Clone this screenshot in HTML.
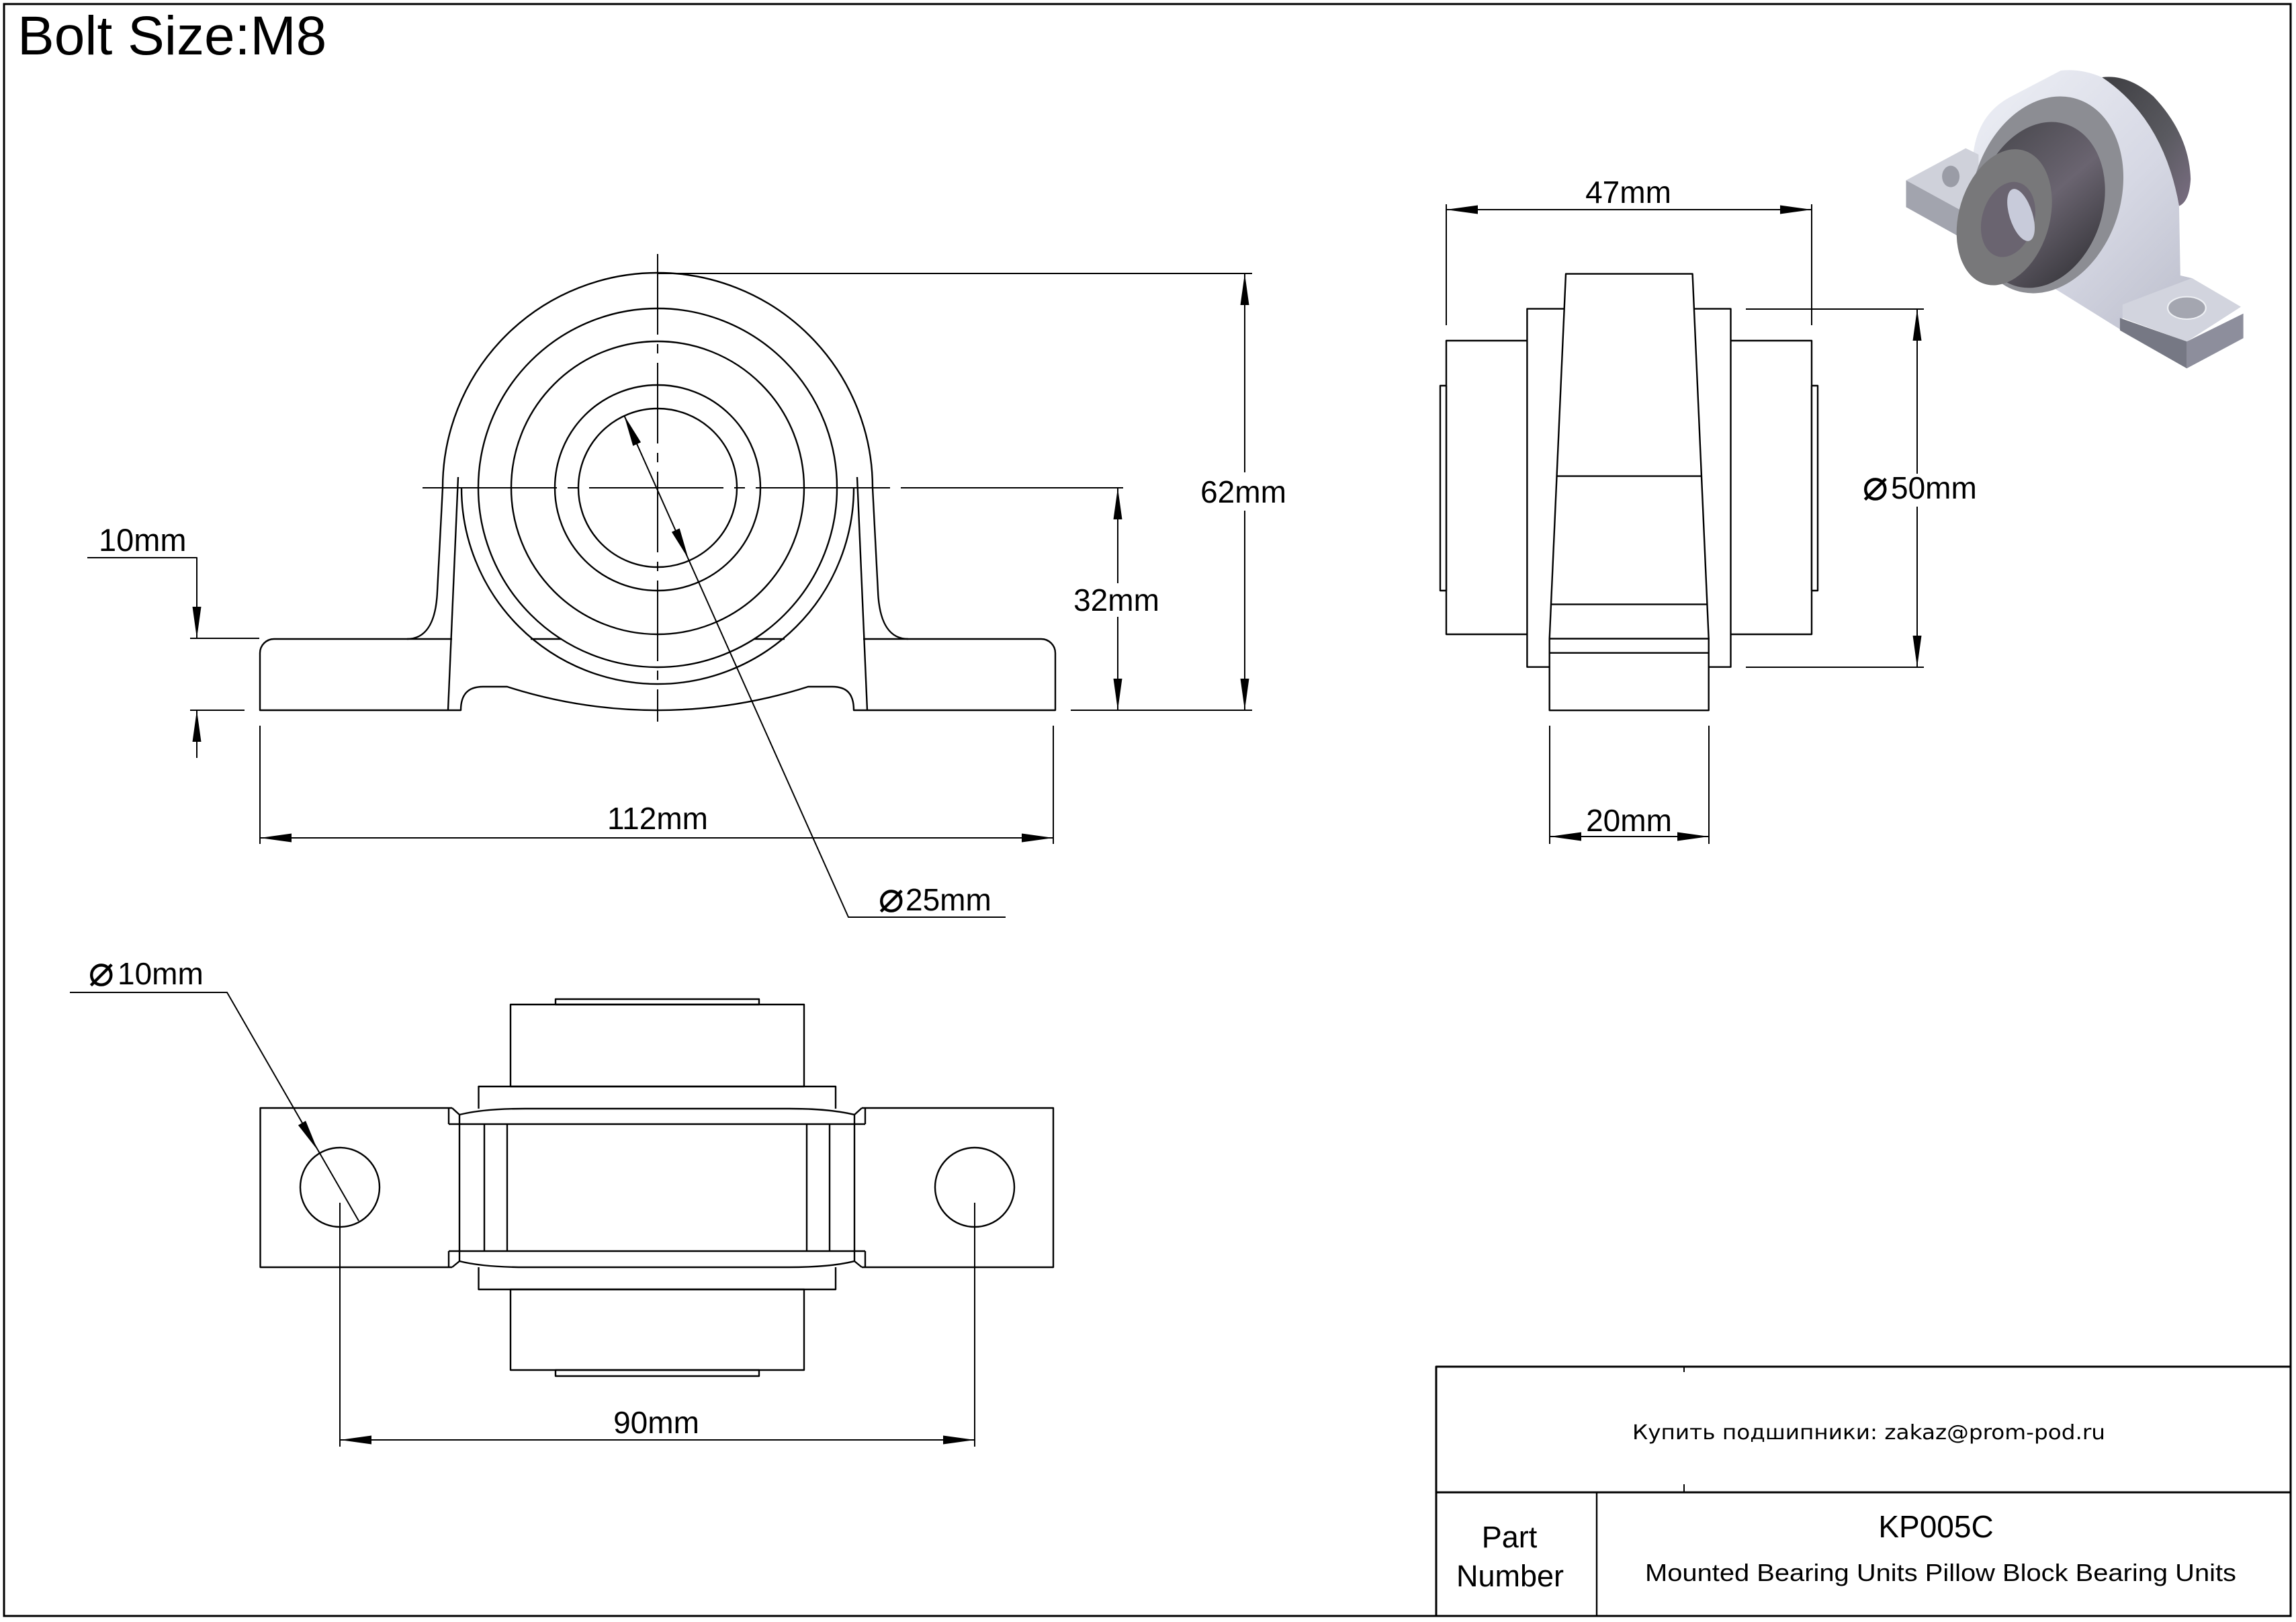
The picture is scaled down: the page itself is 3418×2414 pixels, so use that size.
<!DOCTYPE html>
<html><head><meta charset="utf-8"><style>
html,body{margin:0;padding:0;background:#fff;}
svg{display:block;}
text{font-family:"Liberation Sans",Arial,sans-serif;fill:#000;}
.d{font-family:"DejaVu Sans","Liberation Sans",sans-serif;}
</style></head><body>
<svg width="3418" height="2414" viewBox="0 0 3418 2414" xmlns="http://www.w3.org/2000/svg">
<defs>
<linearGradient id="gl" x1="0" y1="0" x2="1" y2="1"><stop offset="0" stop-color="#eef0f6"/><stop offset="0.5" stop-color="#d6d8e4"/><stop offset="1" stop-color="#b4b6c4"/></linearGradient>
<linearGradient id="gd" x1="0" y1="0" x2="1" y2="1"><stop offset="0" stop-color="#3e3e42"/><stop offset="0.6" stop-color="#5a5a60"/><stop offset="1" stop-color="#7a6e82"/></linearGradient>
<linearGradient id="gb" x1="0" y1="0" x2="1" y2="1"><stop offset="0" stop-color="#45454a"/><stop offset="0.5" stop-color="#6a6470"/><stop offset="1" stop-color="#2e2e32"/></linearGradient>
</defs>
<rect x="0" y="0" width="3418" height="2414" fill="#fff"/>
<!-- frame -->
<rect x="6" y="6" width="3404" height="2399" fill="none" stroke="#000" stroke-width="3"/>
<text x="26" y="81" font-size="82">Bolt Size:M8</text>

<g fill="none" stroke="#000" stroke-width="2.4" stroke-linejoin="round">
<!-- FRONT VIEW -->
<line x1="979" y1="378" x2="979" y2="1074" stroke-width="2" stroke-dasharray="120 14 14 14"/>
<line x1="629" y1="726" x2="1351" y2="726" stroke-width="2" stroke-dasharray="200 16 16 16"/>
<line x1="1351" y1="726" x2="1672" y2="726" stroke-width="2"/>
<path d="M659,726 A320,320 0 0 1 1299,726"/>
<circle cx="979" cy="726" r="267"/>
<circle cx="979" cy="726" r="218"/>
<circle cx="979" cy="726" r="153"/>
<circle cx="979" cy="726" r="118"/>
<path d="M687,726 A292,292 0 0 0 1271,726"/>
<path d="M659,726 L651,880 C649,930 632,951 606,951 L408,951 A21,21 0 0 0 387,972 L387,1057 L686,1057 C686,1032 698,1022 719,1022 L755,1022 A734,734 0 0 0 1203,1022 L1239,1022 C1260,1022 1271,1032 1271,1057 L1571,1057 L1571,972 A21,21 0 0 0 1550,951 L1352,951 C1326,951 1309,930 1307,880 L1299,726"/>
<line x1="606" y1="951" x2="673" y2="951"/>
<line x1="1285" y1="951" x2="1352" y2="951"/>
<line x1="790" y1="951" x2="836" y2="951"/>
<line x1="1122" y1="951" x2="1168" y2="951"/>
<line x1="682" y1="710" x2="667" y2="1057"/>
<line x1="1276" y1="710" x2="1291" y2="1057"/>
<!-- 62mm -->
<line x1="979" y1="407" x2="1864" y2="407" stroke-width="2"/>
<line x1="1594" y1="1057" x2="1864" y2="1057" stroke-width="2"/>
<line x1="1853" y1="407" x2="1853" y2="703" stroke-width="2"/>
<line x1="1853" y1="760" x2="1853" y2="1057" stroke-width="2"/>
<!-- 32mm -->
<line x1="1664" y1="726" x2="1664" y2="868" stroke-width="2"/>
<line x1="1664" y1="918" x2="1664" y2="1057" stroke-width="2"/>
<!-- 112mm -->
<line x1="387" y1="1080" x2="387" y2="1256" stroke-width="2"/>
<line x1="1568" y1="1080" x2="1568" y2="1256" stroke-width="2"/>
<line x1="387" y1="1247" x2="1568" y2="1247" stroke-width="2"/>
<!-- 10mm -->
<path d="M130,830 L293,830 L293,950" stroke-width="2"/>
<line x1="293" y1="1057" x2="293" y2="1128" stroke-width="2"/>
<line x1="283" y1="950" x2="386" y2="950" stroke-width="2"/>
<line x1="283" y1="1057" x2="364" y2="1057" stroke-width="2"/>
<!-- dia 25 leader -->
<path d="M929,618 L1263,1365 L1497,1365" stroke-width="2"/>

<!-- SIDE VIEW -->
<rect x="2153" y="507" width="544" height="437" fill="#fff"/>
<rect x="2144" y="574" width="9" height="305" fill="#fff"/>
<rect x="2697" y="574" width="9" height="305" fill="#fff"/>
<rect x="2273.4" y="459.6" width="303.1" height="533.1" fill="#fff"/>
<polygon points="2331,407.6 2519.6,407.6 2543.7,950.6 2306.7,950.6" fill="#fff"/>
<rect x="2306.7" y="950.6" width="237" height="106.6" fill="#fff"/>
<line x1="2318" y1="708.6" x2="2532" y2="708.6"/>
<line x1="2309.5" y1="899.4" x2="2541" y2="899.4"/>
<line x1="2306.7" y1="971.7" x2="2543.7" y2="971.7"/>
<!-- 47mm -->
<line x1="2153" y1="304" x2="2153" y2="484" stroke-width="2"/>
<line x1="2697" y1="304" x2="2697" y2="484" stroke-width="2"/>
<line x1="2153" y1="312" x2="2697" y2="312" stroke-width="2"/>
<!-- dia 50 -->
<line x1="2599" y1="460" x2="2864" y2="460" stroke-width="2"/>
<line x1="2599" y1="993" x2="2864" y2="993" stroke-width="2"/>
<line x1="2854" y1="460" x2="2854" y2="705" stroke-width="2"/>
<line x1="2854" y1="754" x2="2854" y2="993" stroke-width="2"/>
<!-- 20mm -->
<line x1="2307" y1="1080" x2="2307" y2="1256" stroke-width="2"/>
<line x1="2544" y1="1080" x2="2544" y2="1256" stroke-width="2"/>
<line x1="2307" y1="1245" x2="2544" y2="1245" stroke-width="2"/>

<!-- BOTTOM VIEW -->
<path d="M673,1649 L387.5,1649 L387.5,1886 L673,1886"/>
<path d="M1283,1649 L1568,1649 L1568,1886 L1283,1886"/>
<path d="M668,1649 L668,1673 M673,1649 L684,1659 L684,1877 L673,1886 M668,1862 L668,1886"/>
<path d="M1288,1649 L1288,1673 M1283,1649 L1272,1659 L1272,1877 L1283,1886 M1288,1862 L1288,1886"/>
<line x1="668" y1="1673" x2="1288" y2="1673"/>
<line x1="668" y1="1862" x2="1288" y2="1862"/>
<path d="M684,1659 Q720,1650 782,1650 L1175,1650 Q1236,1650 1272,1659"/>
<path d="M684,1877 Q720,1886 782,1886 L1175,1886 Q1236,1886 1272,1877"/>
<line x1="721" y1="1673" x2="721" y2="1862"/>
<line x1="755" y1="1673" x2="755" y2="1862"/>
<line x1="1201" y1="1673" x2="1201" y2="1862"/>
<line x1="1235" y1="1673" x2="1235" y2="1862"/>
<path d="M712.5,1650 L712.5,1617 L1244,1617 L1244,1650"/>
<rect x="760" y="1495" width="437" height="122"/>
<rect x="827" y="1487" width="303" height="8"/>
<path d="M712.5,1886 L712.5,1919 L1244,1919 L1244,1886"/>
<rect x="760" y="1919" width="437" height="120"/>
<rect x="827" y="2039" width="303" height="9"/>
<circle cx="506" cy="1767" r="59"/>
<circle cx="1451" cy="1767" r="59"/>
<!-- 90mm -->
<line x1="506" y1="1790" x2="506" y2="2153" stroke-width="2"/>
<line x1="1451" y1="1790" x2="1451" y2="2153" stroke-width="2"/>
<line x1="506" y1="2143" x2="1451" y2="2143" stroke-width="2"/>
<!-- dia 10 leader -->
<path d="M104,1477 L338,1477 L534,1817" stroke-width="2"/>

<!-- TITLE BLOCK -->
<rect x="2138" y="2034" width="1272" height="371" stroke-width="3"/>
<line x1="2138" y1="2221" x2="3410" y2="2221" stroke-width="3"/>
<line x1="2377" y1="2221" x2="2377" y2="2405" stroke-width="2.4"/>
<line x1="2507" y1="2034" x2="2507" y2="2042" stroke-width="2"/>
<line x1="2507" y1="2209" x2="2507" y2="2221" stroke-width="2"/>
</g>

<!-- arrowheads -->
<g fill="#000" stroke="none">
<polygon points="1853,407 1846.5,454 1859.5,454"/>
<polygon points="1853,1057 1846.5,1010 1859.5,1010"/>
<polygon points="1664,726 1657.5,773 1670.5,773"/>
<polygon points="1664,1057 1657.5,1010 1670.5,1010"/>
<polygon points="387,1247 434,1240.5 434,1253.5"/>
<polygon points="1568,1247 1521,1240.5 1521,1253.5"/>
<polygon points="293,950 286.5,903 299.5,903"/>
<polygon points="293,1057 286.5,1104 299.5,1104"/>
<polygon points="2153,312 2200,305.5 2200,318.5"/>
<polygon points="2697,312 2650,305.5 2650,318.5"/>
<polygon points="2854,460 2847.5,507 2860.5,507"/>
<polygon points="2854,993 2847.5,946 2860.5,946"/>
<polygon points="2307,1245 2354,1238.5 2354,1251.5"/>
<polygon points="2544,1245 2497,1238.5 2497,1251.5"/>
<polygon points="506,2143 553,2136.5 553,2149.5"/>
<polygon points="1451,2143 1404,2136.5 1404,2149.5"/>
<polygon points="929,618 954.1,658.2 942.3,663.6"/>
<polygon points="1025,832 1011.7,786.4 999.9,791.8"/>
<polygon points="473,1712 455.1,1668.1 443.9,1674.6"/>
</g>

<!-- dimension text -->
<g font-size="46">
<text x="1851" y="748" text-anchor="middle">62mm</text>
<text x="1662" y="909" text-anchor="middle">32mm</text>
<text x="979" y="1234" text-anchor="middle">112mm</text>
<text x="147" y="820" font-size="47">10mm</text>
<text class="d" x="1346" y="1357" font-size="64" text-anchor="end">⌀</text>
<text x="1348" y="1355">25mm</text>
<text class="d" x="170" y="1467" font-size="64" text-anchor="end">⌀</text>
<text x="175" y="1465">10mm</text>
<text x="2424" y="302" text-anchor="middle">47mm</text>
<text class="d" x="2811" y="744" font-size="64" text-anchor="end">⌀</text>
<text x="2815" y="742">50mm</text>
<text x="2425" y="1237" text-anchor="middle">20mm</text>
<text x="977" y="2133" text-anchor="middle">90mm</text>
</g>

<!-- title block text -->
<text class="d" x="2782" y="2142" font-size="30" text-anchor="middle" textLength="704" lengthAdjust="spacingAndGlyphs">Купить подшипники: zakaz@prom-pod.ru</text>
<text x="2882" y="2288" font-size="46" text-anchor="middle">KP005C</text>
<text x="2889" y="2353" font-size="36" text-anchor="middle" textLength="880" lengthAdjust="spacingAndGlyphs">Mounted Bearing Units Pillow Block Bearing Units</text>
<text x="2247" y="2303" font-size="45" text-anchor="middle">Part</text>
<text x="2248" y="2361" font-size="45" text-anchor="middle">Number</text>

<!-- ISOMETRIC -->
<g transform="translate(2800,60) scale(0.3827,0.3333)" stroke="none">
<path d="M860,165 Q960,150 1060,250 Q1200,420 1205,620 Q1200,720 1160,740 Q1100,350 860,165 Z" fill="url(#gd)"/>
<path d="M360,500 Q380,330 500,255 L700,135 Q780,125 860,165 Q1100,350 1160,740 L1165,1050 L1210,1062 L1400,1190 L1190,1345 L940,1240 L930,1290 L650,1090 L360,912 Z" fill="url(#gl)"/>
<polygon points="98,625 330,482 380,510 380,820 360,800" fill="#cfd1da"/>
<polygon points="98,625 360,790 360,912 98,745" fill="#a2a4ae"/>
<ellipse cx="272" cy="608" rx="34" ry="48" fill="#9a9ca6"/>
<polygon points="940,1180 1210,1062 1400,1190 1190,1345 940,1240" fill="#d2d4de"/>
<polygon points="930,1240 1190,1345 1190,1465 930,1295" fill="#767884"/>
<polygon points="1190,1345 1410,1220 1410,1330 1190,1465" fill="#8d8e9c"/>
<ellipse cx="1190" cy="1195" rx="74" ry="50" fill="#a4a6b0" stroke="#eef0f4" stroke-width="6"/>
<ellipse cx="645" cy="690" rx="290" ry="445" transform="rotate(12 645 690)" fill="#8c8d93"/>
<ellipse cx="620" cy="735" rx="245" ry="375" transform="rotate(12 620 735)" fill="url(#gb)"/>
<ellipse cx="480" cy="790" rx="178" ry="308" transform="rotate(12 480 790)" fill="#78787a"/>
<ellipse cx="495" cy="800" rx="102" ry="170" transform="rotate(12 495 800)" fill="#6a6470"/>
<ellipse cx="545" cy="780" rx="45" ry="120" transform="rotate(-15 545 780)" fill="#c8cbda"/>
</g>
</svg>
</body></html>
